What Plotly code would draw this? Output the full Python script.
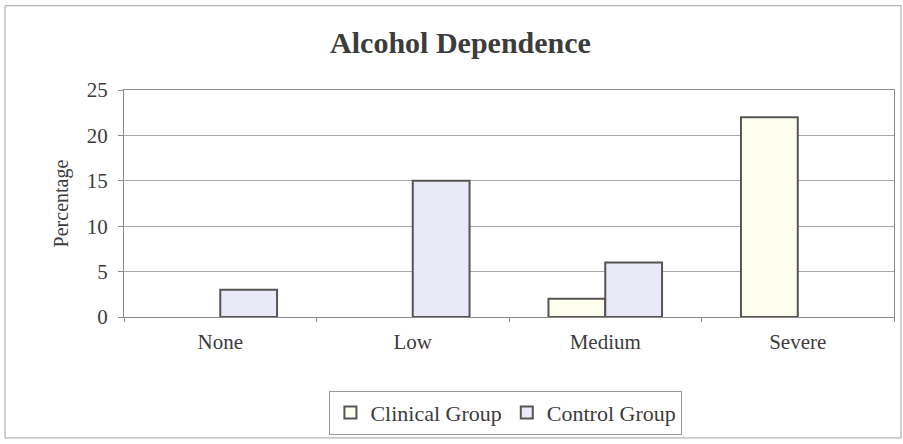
import plotly.graph_objects as go

categories = ["None", "Low", "Medium", "Severe"]
clinical_group = [0, 0, 2, 22]
control_group = [3, 15, 6, 0]
y_ticks = [0, 5, 10, 15, 20, 25]

serif = "Liberation Serif, Times New Roman, serif"
text_color = "#3c3c3c"
edge = "#555555"


def outline_widths(values):
    # empty bars get no outline so nothing is drawn on the baseline
    return [2 if v else 0 for v in values]


fig = go.Figure()
fig.add_trace(go.Bar(
    name="Clinical Group", x=categories, y=clinical_group,
    marker=dict(color="#FFFFF0", line=dict(color=edge, width=outline_widths(clinical_group))),
))
fig.add_trace(go.Bar(
    name="Control Group", x=categories, y=control_group,
    marker=dict(color="#E9E9F7", line=dict(color=edge, width=outline_widths(control_group))),
))

fig.update_layout(
    width=903, height=444,
    margin=dict(l=124, r=9, t=90, b=125),
    paper_bgcolor="white", plot_bgcolor="white",
    barmode="group", bargap=0.41, bargroupgap=0,
    font=dict(family=serif, color=text_color, size=20),
    title=dict(text="<b>Alcohol Dependence</b>", x=0.51, xanchor="center",
               y=0.905, yanchor="middle",
               font=dict(family=serif, size=30, color=text_color)),
    showlegend=True,
    legend=dict(orientation="h", x=0.496, xanchor="center", y=-0.325, yanchor="top",
                bordercolor="#9a9a9a", borderwidth=1, bgcolor="white",
                font=dict(family=serif, size=22, color=text_color),
                itemsizing="constant", itemwidth=30, traceorder="normal"),
    xaxis=dict(showline=True, linecolor="#8a8a8a", linewidth=1, mirror=True,
               ticks="outside", tickson="boundaries", ticklen=4, tickcolor="#8a8a8a",
               showgrid=False, tickfont=dict(size=21), ticklabelstandoff=6,
               fixedrange=True),
    yaxis=dict(range=[0, 25], tickvals=y_ticks, showline=True, linecolor="#8a8a8a",
               linewidth=1, mirror=True, ticks="outside", ticklen=5, tickcolor="#8a8a8a",
               showgrid=True, gridcolor="#a8a8a8", gridwidth=1, zeroline=False,
               tickfont=dict(size=21), ticklabelstandoff=6,
               title=dict(text="Percentage", font=dict(size=20), standoff=12)),
)

# outer chart frame
fig.add_shape(type="rect", xref="paper", yref="paper",
              x0=(5 - 124) / 770, x1=(901 - 124) / 770,
              y0=(319 - 441) / 229, y1=(319 - 5) / 229,
              line=dict(color="#a0a0a0", width=1), fillcolor="rgba(0,0,0,0)", layer="below")

fig.write_html("out.html")
